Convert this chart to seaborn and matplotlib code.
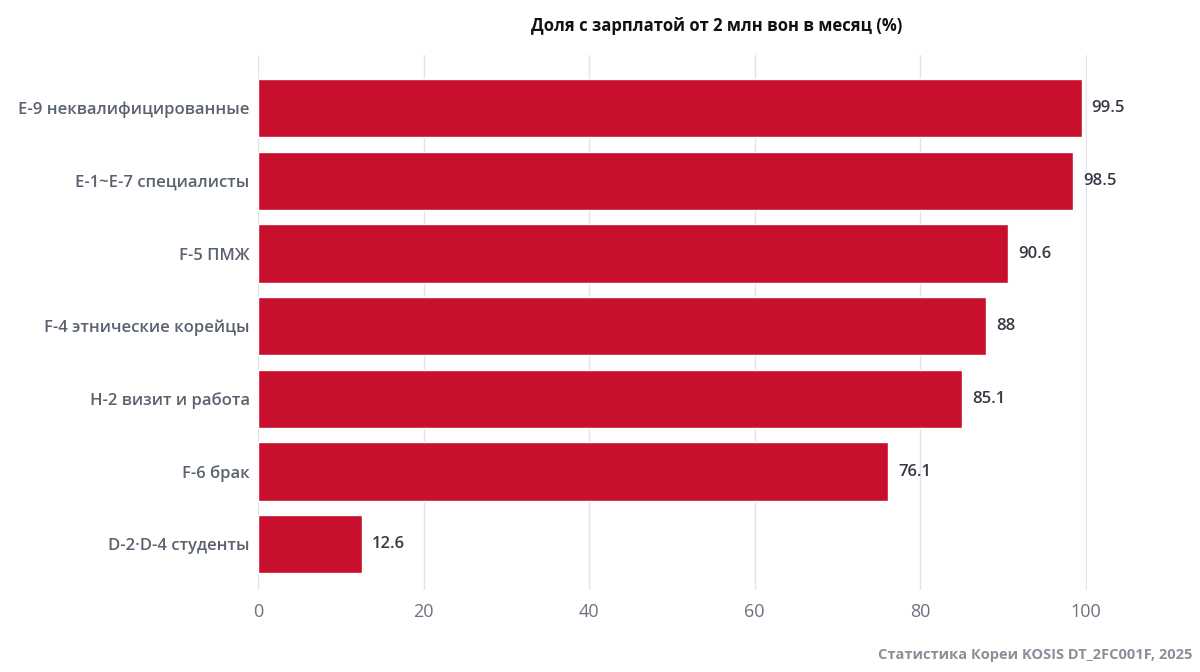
import numpy as np
import pandas as pd
import seaborn as sns
import matplotlib.pyplot as plt

categories = ['E-9 неквалифицированные', 'E-1~E-7 специалисты', 'F-5 ПМЖ',
              'F-4 этнические корейцы', 'H-2 визит и работа', 'F-6 брак',
              'D-2·D-4 студенты']
values = [99.5, 98.5, 90.6, 88, 85.1, 76.1, 12.6]
value_labels = ['99.5', '98.5', '90.6', '88', '85.1', '76.1', '12.6']
x_ticks = [0, 20, 40, 60, 80, 100]

sns.set_theme(style="white")
plt.rcParams['font.family'] = ['Open Sans', 'DejaVu Sans']

df = pd.DataFrame({'cat': categories, 'val': values})

fig = plt.figure(figsize=(12, 6.72), dpi=100)
ax = fig.add_axes([0.215, 0.122, 0.6912, 0.796])

sns.barplot(data=df, x='val', y='cat', color='#C8102E', saturation=1,
            width=0.8, ax=ax, zorder=3)

for i, (v, t) in enumerate(zip(values, value_labels)):
    ax.text(v + 1.2, i, t, va='center', ha='left', fontsize=12,
            fontweight='semibold', color='#333a44', clip_on=False)

ax.set_xlim(0, 100.2)
ax.set_ylim(6.63, -0.73)
ax.set_xticks(x_ticks)
ax.set_xticklabels([str(t) for t in x_ticks], fontsize=13, color='#6b7280')
ax.set_yticks(range(len(categories)))
ax.set_yticklabels(categories, fontsize=12, color='#5a6270', fontweight='semibold')
ax.tick_params(axis='y', length=0, pad=6)
ax.tick_params(axis='x', length=0, pad=9)
ax.grid(axis='x', color='#e3e3e8', linewidth=1, zorder=0)
ax.set_xlabel('')
ax.set_ylabel('')
for s in ax.spines.values():
    s.set_visible(False)

fig.text(0.5975, 0.962, 'Доля с зарплатой от 2 млн вон в месяц (%)', ha='center',
         va='center', fontsize=12, fontweight='bold', color='#111111')
fig.text(0.994, 0.025, 'Статистика Кореи KOSIS DT_2FC001F, 2025', ha='right',
         va='center', fontsize=10.5, fontweight='bold', color='#8a9099')

fig.savefig('out.png', dpi=100)
